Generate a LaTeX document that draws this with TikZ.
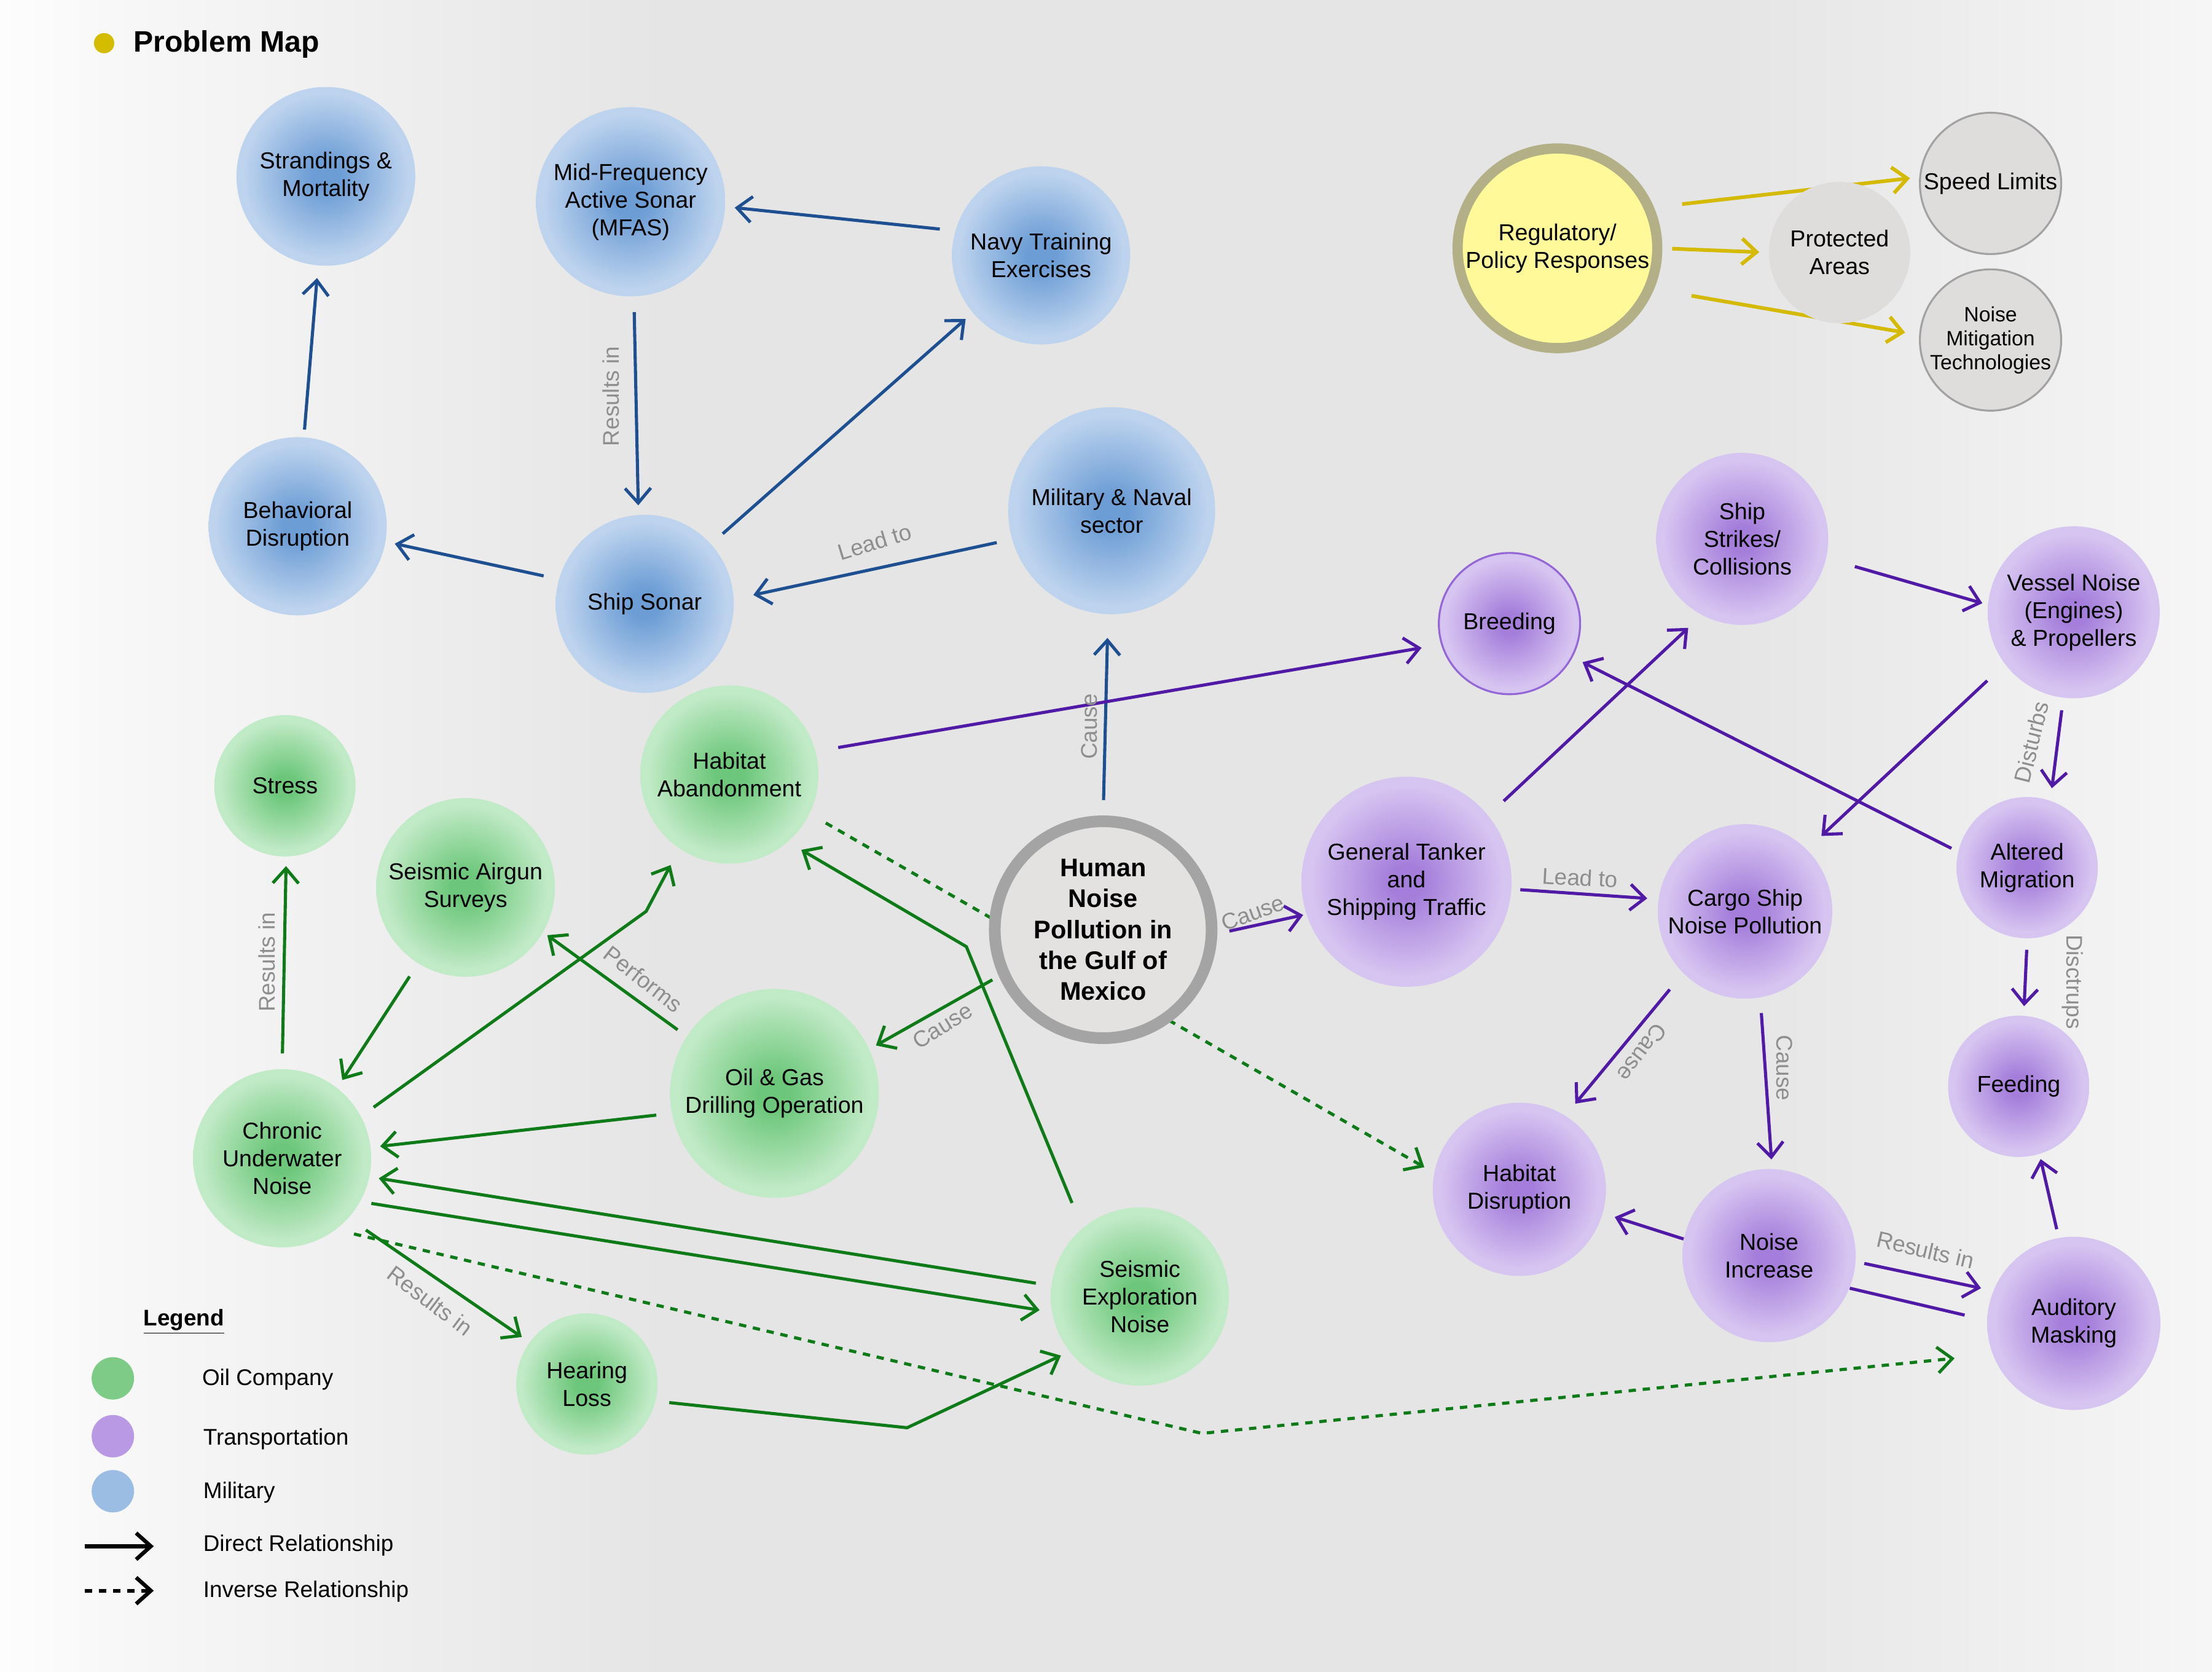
\documentclass[tikz,border=0pt]{standalone}
\usepackage{fontspec}
\setmainfont{Liberation Sans}
\usetikzlibrary{arrows.meta,calc}

\definecolor{bgA}{HTML}{FDFDFD}
\definecolor{bgB}{HTML}{F7F7F7}
\definecolor{bgC}{HTML}{E5E5E5}
\definecolor{bgD}{HTML}{F6F6F6}
\definecolor{oilIn}{HTML}{6CC77A}
\definecolor{oilOut}{HTML}{C1EAC6}
\definecolor{transIn}{HTML}{A57EDB}
\definecolor{transOut}{HTML}{D7C5F1}
\definecolor{milIn}{HTML}{6C9DD5}
\definecolor{milOut}{HTML}{BDD3EE}
\definecolor{bluLine}{HTML}{1E4F91}
\definecolor{grnLine}{HTML}{0E7A18}
\definecolor{purLine}{HTML}{5019A6}
\definecolor{yelLine}{HTML}{D4BA00}
\definecolor{lblGray}{HTML}{8E8E8E}
\definecolor{humFill}{HTML}{E3E2E1}
\definecolor{humEdge}{HTML}{A4A4A4}
\definecolor{regFill}{HTML}{FFF99A}
\definecolor{regEdge}{HTML}{B3B088}
\definecolor{optFill}{HTML}{DEDDDC}
\definecolor{optEdge}{HTML}{A2A2A2}
\definecolor{breedEdge}{HTML}{9466D6}
\definecolor{keyOil}{HTML}{7DCB86}
\definecolor{keyTrans}{HTML}{B999E4}
\definecolor{keyMil}{HTML}{9BBDE4}
\definecolor{mapDot}{HTML}{D4BC00}

\pgfdeclarehorizontalshading{paper}{100bp}{color(0bp)=(bgA); color(25bp)=(bgA); color(28bp)=(bgB); color(40bp)=(bgC); color(64bp)=(bgC); color(75bp)=(bgD); color(100bp)=(bgD)}
\pgfdeclareradialshading{oilshade}{\pgfpoint{0bp}{0bp}}{color(0bp)=(oilIn); color(4bp)=(oilIn); color(23bp)=(oilOut); color(50bp)=(oilOut)}
\pgfdeclareradialshading{transshade}{\pgfpoint{0bp}{0bp}}{color(0bp)=(transIn); color(4bp)=(transIn); color(23bp)=(transOut); color(50bp)=(transOut)}
\pgfdeclareradialshading{milshade}{\pgfpoint{0bp}{0bp}}{color(0bp)=(milIn); color(4bp)=(milIn); color(23bp)=(milOut); color(50bp)=(milOut)}

\pgfdeclarelayer{bg}
\pgfdeclarelayer{edges}
\pgfsetlayers{bg,edges,main}

\begin{document}
\begin{tikzpicture}[x=0.022959cm, y=-0.022959cm,
    blob/.style={circle, inner sep=0pt, align=center, text=black, font=\fontsize{10.7}{12.8}\selectfont},
    oil/.style={blob, shade, shading=oilshade},
    trans/.style={blob, shade, shading=transshade},
    mil/.style={blob, shade, shading=milshade},
    opt/.style={blob, fill=optFill, minimum size=2.3cm},
    link/.style={line width=1.45pt, shorten <=0.25cm, shorten >=0.15cm, -{Straight Barb[length=2.4mm,width=4.2mm]}},
    blu/.style={link, draw=bluLine},
    grn/.style={link, draw=grnLine},
    pur/.style={link, draw=purLine},
    yel/.style={link, draw=yelLine, line width=1.7pt},
    inv/.style={dash pattern=on 1.2mm off 1.1mm},
    lbl/.style={text=lblGray, font=\fontsize{10.5}{12}\selectfont, inner sep=0pt},
    legtext/.style={anchor=base west, inner sep=0pt, font=\fontsize{10.5}{12}\selectfont}
  ]
  \begin{pgfonlayer}{bg}
    \shade[shading=paper] (0,0) rectangle (1568,1185);
  \end{pgfonlayer}
  \useasboundingbox (0,0) rectangle (1568,1185);

  \node[circle, fill=mapDot, minimum size=0.33cm, inner sep=0pt] (mapdot) at (73.8,30.6) {};
  \node[anchor=base west, inner sep=0pt, font=\bfseries\fontsize{13.7}{16}\selectfont] (maptitle) at (94.3,37) {Problem Map};

  % military
  \node[mil, minimum size=2.91cm] (strand) at (231,125) {Strandings \&\\Mortality};
  \node[mil, minimum size=3.08cm] (mfas) at (447,143) {Mid-Frequency\\Active Sonar\\(MFAS)};
  \node[mil, minimum size=2.9cm] (navy) at (738,181) {Navy Training\\Exercises};
  \node[mil, minimum size=2.9cm] (behav) at (211,373) {Behavioral\\Disruption};
  \node[mil, minimum size=2.9cm] (sonar) at (457,428) {Ship Sonar};
  \node[mil, minimum size=3.37cm] (military) at (788,362) {Military \& Naval\\sector};

  % policy
  \node[blob, fill=regFill, draw=regEdge, line width=0.166cm, minimum size=3.25cm] (reg) at (1104,176) {Regulatory/\\Policy Responses};
  \node[opt] (protect) at (1304,179) {Protected\\Areas};
  \node[opt, draw=optEdge, line width=0.9pt] (speed) at (1411,130) {Speed Limits};
  \node[opt, draw=optEdge, line width=0.9pt, font=\fontsize{9.6}{11.1}\selectfont] (mitig) at (1411,241) {Noise\\Mitigation\\Technologies};

  % transportation
  \node[trans, minimum size=2.8cm] (strikes) at (1235,382) {Ship\\Strikes/\\Collisions};
  \node[trans, minimum size=2.3cm, draw=breedEdge, line width=0.9pt] (breed) at (1070,442) {Breeding};
  \node[trans, minimum size=2.8cm] (vessel) at (1470,434) {Vessel Noise\\(Engines)\\\& Propellers};
  \node[trans, minimum size=3.42cm] (tanker) at (997,625) {General Tanker\\and\\Shipping Traffic};
  \node[trans, minimum size=2.84cm] (cargo) at (1237,646) {Cargo Ship\\Noise Pollution};
  \node[trans, minimum size=2.3cm] (altered) at (1437,615) {Altered\\Migration};
  \node[trans, minimum size=2.3cm] (feed) at (1431,770) {Feeding};
  \node[trans, minimum size=2.82cm] (habdis) at (1077,843) {Habitat\\Disruption};
  \node[trans, minimum size=2.82cm] (noiseinc) at (1254,890) {Noise\\Increase};
  \node[trans, minimum size=2.82cm] (masking) at (1470,938) {Auditory\\Masking};

  % oil company
  \node[oil, minimum size=2.9cm] (habab) at (517,549) {Habitat\\Abandonment};
  \node[oil, minimum size=2.3cm] (stress) at (202,557) {Stress};
  \node[oil, minimum size=2.91cm] (airgun) at (330,629) {Seismic Airgun\\Surveys};
  \node[oil, minimum size=3.4cm] (oilgas) at (549,775) {Oil \& Gas\\Drilling Operation};
  \node[oil, minimum size=2.9cm] (chronic) at (200,821) {Chronic\\Underwater\\Noise};
  \node[oil, minimum size=2.9cm] (seisexp) at (808,919) {Seismic\\Exploration\\Noise};
  \node[oil, minimum size=2.3cm] (hearing) at (416,981) {Hearing\\Loss};

  \node[blob, fill=humFill, draw=humEdge, line width=0.19cm, minimum size=3.53cm, font=\bfseries\fontsize{11.8}{14.3}\selectfont] (human) at (782,659) {Human\\Noise\\Pollution in\\the Gulf of\\Mexico};

  \begin{pgfonlayer}{edges}
    \draw[blu] (navy.164) -- (mfas.-3);
    \draw[blu] (mfas.-88) -- (sonar.94);
    \draw[blu] (sonar.42) -- (navy.-140);
    \draw[blu] (sonar.164) -- (behav.-10);
    \draw[blu, shorten <=0.12cm, shorten >=0.2cm] (behav.86) -- (strand.-95);
    \draw[blu, shorten >=0.32cm] (military.-164) -- (sonar.3);
    \draw[blu, shorten >=0.38cm] (human.90) -- (military.-92);

    \draw[yel, shorten <=0.46cm] (reg.23) -- (speed.175);
    \draw[yel, shorten <=0.16cm] (reg.0) -- (protect.180);
    \draw[yel, shorten <=0.62cm, shorten >=0.23cm] (reg.-23) -- (mitig.176);

    \draw[grn, shorten <=0.12cm, shorten >=0.12cm] (human.-156) -- (oilgas.25);
    \draw[grn, shorten <=0.18cm, shorten >=0.08cm] (oilgas.147) -- (airgun.-30);
    \draw[grn] (airgun.-122) -- (chronic.52);
    \draw[grn] (chronic.90) -- (stress.-89);
    \draw[grn, shorten >=0.3cm] (chronic.28) -- (458,646) -- (habab.-124);
    \draw[grn] (oilgas.-169) -- (chronic.7);
    \draw[grn] (seisexp.173) -- (chronic.-12);
    \draw[grn, shorten <=0.18cm, shorten >=0.2cm] (chronic.-29) -- (seisexp.-170);
    \draw[grn, shorten <=0.44cm, shorten >=0.25cm] (seisexp.130) -- (685,671) -- (habab.-49);
    \draw[grn, shorten <=0.34cm] (chronic.-42) -- (hearing.144);
    \draw[grn, shorten <=0.22cm] (hearing.-14) -- (643,1012) -- (seisexp.-142);
    \draw[grn, inv, shorten <=0.3cm, shorten >=0.62cm] (chronic.-53) -- (852,1016) -- (masking.-159);
    \draw[grn, inv, shorten <=0.3cm, shorten >=0.18cm] (habab.-26) -- (habdis.169);

    \draw[pur, shorten <=0.2cm, shorten >=0.05cm] (human.-2) -- (tanker.-162);
    \draw[pur, shorten <=0.37cm, shorten >=0.32cm] (habab.15) -- (breed.-163);
    \draw[pur, shorten <=0.34cm, shorten >=0.3cm] (tanker.39) -- (strikes.-118);
    \draw[pur, shorten <=0.14cm, shorten >=0.18cm] (tanker.-4) -- (cargo.172);
    \draw[pur, shorten <=0.48cm, shorten >=0.09cm] (strikes.-13) -- (vessel.175);
    \draw[pur, shorten <=0.39cm, shorten >=0.32cm] (vessel.-143) -- (cargo.45);
    \draw[pur, shorten <=0.2cm, shorten >=0.2cm] (vessel.-97) -- (altered.71);
    \draw[pur, shorten <=0.12cm, shorten >=0.18cm] (altered.167) -- (breed.-28);
    \draw[pur, shorten <=0.18cm] (altered.-90) -- (feed.86);
    \draw[pur, shorten <=0.34cm, shorten >=0.25cm] (cargo.-135) -- (habdis.58);
    \draw[pur] (cargo.-80) -- (noiseinc.88);
    \draw[pur, shorten <=0cm, shorten >=0.2cm] (noiseinc.169) -- (habdis.-16);
    \draw[pur, shorten <=0.14cm, shorten >=0.2cm] (noiseinc.-4) -- (masking.158);
    \draw[pur, arrows=-, shorten <=0.37cm, shorten >=0cm] (masking.178) -- (noiseinc.-22);
    \draw[pur, shorten <=0.14cm, shorten >=0.08cm] (masking.100) -- (feed.-73);
  \end{pgfonlayer}

  \node[lbl, rotate=90] (lbresA) at (433,281) {Results in};
  \node[lbl, rotate=17] (lbleadA) at (620,384) {Lead to};
  \node[lbl, rotate=90] (lbcauseA) at (772,515) {Cause};
  \node[lbl, rotate=32] (lbcauseB) at (668,727) {Cause};
  \node[lbl, rotate=-38] (lbperf) at (456,694) {Performs};
  \node[lbl, rotate=90] (lbresB) at (189,682) {Results in};
  \node[lbl, rotate=-37] (lbresC) at (305,922) {Results in};
  \node[lbl, rotate=20] (lbcauseC) at (888,647) {Cause};
  \node[lbl, rotate=-3] (lbleadB) at (1120,622) {Lead to};
  \node[lbl, rotate=76] (lbdist) at (1440,526) {Disturbs};
  \node[lbl, rotate=-90] (lbdisc) at (1469,696) {Disctrups};
  \node[lbl, rotate=-127] (lbcauseD) at (1164,746) {Cause};
  \node[lbl, rotate=-90] (lbcauseE) at (1265,757) {Cause};
  \node[lbl, rotate=-13] (lbresD) at (1365,886) {Results in};

  % legend
  \node[legtext, font=\bfseries\fontsize{10.5}{12}\selectfont] (legend) at (101.5,939.5) {\underline{Legend}};
  \node[circle, fill=keyOil, minimum size=0.69cm, inner sep=0pt] (keyoil) at (80,977) {};
  \node[circle, fill=keyTrans, minimum size=0.69cm, inner sep=0pt] (keytrans) at (80,1018) {};
  \node[circle, fill=keyMil, minimum size=0.69cm, inner sep=0pt] (keymil) at (80,1057) {};
  \node[legtext] (txoil) at (143,982) {Oil Company};
  \node[legtext] (txtrans) at (143.8,1024) {Transportation};
  \node[legtext] (txmil) at (143.8,1062) {Military};
  \node[legtext] (txdir) at (143.8,1099.7) {Direct Relationship};
  \node[legtext] (txinv) at (143.8,1132.4) {Inverse Relationship};
  \coordinate (dirA) at (60,1096);
  \coordinate (dirB) at (109,1096);
  \coordinate (invA) at (60,1127.5);
  \coordinate (invB) at (109,1127.5);
  \draw[line width=1.8pt, -{Straight Barb[length=2.4mm,width=4.3mm]}] (dirA) -- (dirB);
  \draw[line width=1.8pt, inv, -{Straight Barb[length=2.4mm,width=4.3mm]}] (invA) -- (invB);
\end{tikzpicture}
\end{document}
